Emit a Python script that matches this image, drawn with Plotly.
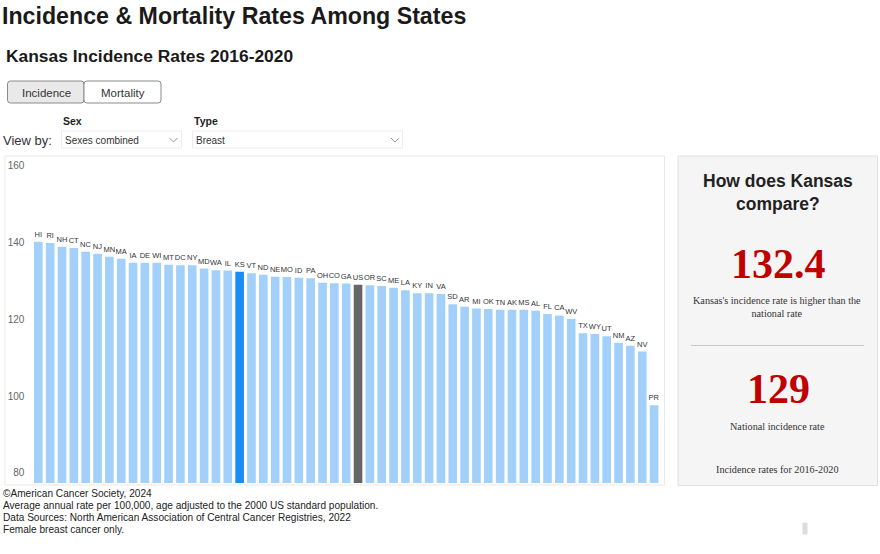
import plotly.graph_objects as go

W, H = 880, 554

# ---------------- data ----------------
states = ["HI", "RI", "NH", "CT", "NC", "NJ", "MN", "MA", "IA", "DE", "WI", "MT", "DC", "NY",
          "MD", "WA", "IL", "KS", "VT", "ND", "NE", "MO", "ID", "PA", "OH", "CO", "GA", "US",
          "OR", "SC", "ME", "LA", "KY", "IN", "VA", "SD", "AR", "MI", "OK", "TN", "AK", "MS",
          "AL", "FL", "CA", "WV", "TX", "WY", "UT", "NM", "AZ", "NV", "PR"]
rates = [140.2, 139.9, 138.9, 138.6, 137.6, 137.1, 136.3, 135.8, 134.7, 134.7, 134.7, 134.2,
         134.1, 134.1, 133.2, 132.8, 132.7, 132.4, 132.0, 131.6, 131.1, 131.0, 130.8, 130.7,
         129.5, 129.4, 129.3, 129.0, 128.9, 128.7, 128.2, 127.6, 126.8, 126.8, 126.6, 123.9,
         123.3, 122.8, 122.7, 122.5, 122.5, 122.5, 122.2, 121.4, 121.0, 120.1, 116.4, 116.2,
         115.6, 113.9, 113.1, 111.6, 97.6]
y_ticks = [80, 100, 120, 140, 160]
state_value = "132.4"
national_value = "129"

footer_lines = [
    "©American Cancer Society, 2024",
    "Average annual rate per 100,000, age adjusted to the 2000 US standard population.",
    "Data Sources: North American Association of Central Cancer Registries, 2022",
    "Female breast cancer only.",
]

# ---------------- helpers ----------------
def px(x):
    return x / W

def py(y):
    return 1 - y / H

SANS = "Liberation Sans, Arial, sans-serif"
SERIF = "Liberation Serif, Times New Roman, serif"

C_LIGHT = "#a3d0fb"
C_STATE = "#1a8cf5"
C_US = "#666666"
colors = [C_STATE if s == "KS" else (C_US if s == "US" else C_LIGHT) for s in states]

fig = go.Figure()
fig.add_trace(go.Bar(
    x=states, y=rates,
    marker=dict(color=colors, line=dict(width=0)),
    text=states, textposition="outside", textangle=0, constraintext="none",
    textfont=dict(family=SANS, size=7.5, color="#333333"),
    cliponaxis=False, hoverinfo="x+y",
))

shapes = []
annotations = []

def rrect(x0, y0, x1, y1, r, fill, line, lw=1):
    rx, ry = r / W, r / H
    X0, X1 = px(x0), px(x1)
    Y0, Y1 = py(y0), py(y1)  # Y0 top (higher), Y1 bottom
    path = (f"M{X0+rx},{Y0} L{X1-rx},{Y0} Q{X1},{Y0} {X1},{Y0-ry} "
            f"L{X1},{Y1+ry} Q{X1},{Y1} {X1-rx},{Y1} L{X0+rx},{Y1} "
            f"Q{X0},{Y1} {X0},{Y1+ry} L{X0},{Y0-ry} Q{X0},{Y0} {X0+rx},{Y0} Z")
    shapes.append(dict(type="path", xref="paper", yref="paper", path=path,
                       fillcolor=fill, line=dict(color=line, width=lw), layer="below"))

def rect(x0, y0, x1, y1, fill, line, lw=1, layer="below"):
    shapes.append(dict(type="rect", xref="paper", yref="paper",
                       x0=px(x0), x1=px(x1), y0=py(y1), y1=py(y0),
                       fillcolor=fill, line=dict(color=line, width=lw), layer=layer))

def hline(x0, x1, y, color, lw=1):
    shapes.append(dict(type="line", xref="paper", yref="paper",
                       x0=px(x0), x1=px(x1), y0=py(y), y1=py(y),
                       line=dict(color=color, width=lw)))

def chevron(cx, cy, color="#999999"):
    path = f"M{px(cx-4)},{py(cy-2)} L{px(cx)},{py(cy+2)} L{px(cx+4)},{py(cy-2)}"
    shapes.append(dict(type="path", xref="paper", yref="paper", path=path,
                       line=dict(color=color, width=1)))

def text(x, y, s, size, color="#222222", family=SANS, xanchor="left", bold=False):
    if bold:
        s = f"<b>{s}</b>"
    annotations.append(dict(xref="paper", yref="paper", x=px(x), y=py(y), text=s,
                            showarrow=False, xanchor=xanchor, yanchor="middle",
                            font=dict(family=family, size=size, color=color),
                            borderpad=0, borderwidth=0))

# ---------------- header ----------------
text(2, 16, "Incidence & Mortality Rates Among States", 23.2, "#1a1a1a", bold=True)
text(6, 56, "Kansas Incidence Rates 2016-2020", 17.4, "#1a1a1a", bold=True)

# toggle buttons
rrect(7.5, 81, 84, 103, 3, "#e9e9e9", "#8a8a8a")
rrect(84, 81, 161, 103, 3, "#ffffff", "#8a8a8a")
text(46, 92.5, "Incidence", 11.5, "#333333", xanchor="center")
text(123, 92.5, "Mortality", 11.5, "#333333", xanchor="center")

# dropdown labels
text(63, 121, "Sex", 10.5, "#222222", bold=True)
text(194, 121, "Type", 10.5, "#222222", bold=True)
text(3, 140, "View by:", 13, "#333333")
rect(61.5, 131, 181.5, 148, "#ffffff", "#ececec")
rect(192.5, 131, 402.5, 148, "#ffffff", "#ececec")
text(65, 140, "Sexes combined", 10, "#333333")
text(195.5, 140, "Breast", 10, "#333333")
chevron(173.5, 140)
chevron(395, 140)

# chart frame
rect(5, 156, 664.5, 485, "rgba(0,0,0,0)", "#e8e8e8")

# ---------------- right panel ----------------
rect(678, 156, 877.5, 485.5, "#f5f5f5", "#e0e0e0")
text(778, 192, "How does Kansas<br>compare?", 17.5, "#222222", xanchor="center", bold=True)
text(778, 264, state_value, 42, "#c00000", family=SERIF, xanchor="center", bold=True)
text(777, 306.5, "Kansas's incidence rate is higher than the<br>national rate", 10.2,
     "#333333", family=SERIF, xanchor="center")
hline(691, 864, 345.5, "#c8c8c8")
text(778, 389, national_value, 42, "#c00000", family=SERIF, xanchor="center", bold=True)
text(777, 426, "National incidence rate", 10.2, "#333333", family=SERIF, xanchor="center")
text(777, 469, "Incidence rates for 2016-2020", 10.2, "#333333", family=SERIF, xanchor="center")

# ---------------- footer ----------------
for i, line in enumerate(footer_lines):
    text(3, 493 + 12 * i, line, 10.1, "#222222")

# small scroll marker
rect(803, 523, 807, 534, "#dddddd", "#dddddd", layer="above")

fig.update_layout(
    width=W, height=H,
    margin=dict(l=0, r=0, t=0, b=0),
    paper_bgcolor="#ffffff", plot_bgcolor="rgba(0,0,0,0)",
    showlegend=False,
    bargap=0.27,
    xaxis=dict(domain=[px(32.4), px(660)], showticklabels=False, showgrid=False,
               zeroline=False, showline=False, ticks="", fixedrange=True),
    yaxis=dict(domain=[py(483), py(157)], range=[77.37, 162.27],
               tickvals=y_ticks, ticktext=[str(v) for v in y_ticks],
               showgrid=False, zeroline=False, showline=False, ticks="",
               ticklabelstandoff=7,
               tickfont=dict(family=SANS, size=10, color="#666666"), fixedrange=True),
    shapes=shapes, annotations=annotations,
    font=dict(family=SANS),
)

fig.write_html("out.html", config={"displayModeBar": False},
               post_script="document.body.style.margin='0';document.body.style.overflow='hidden';")
